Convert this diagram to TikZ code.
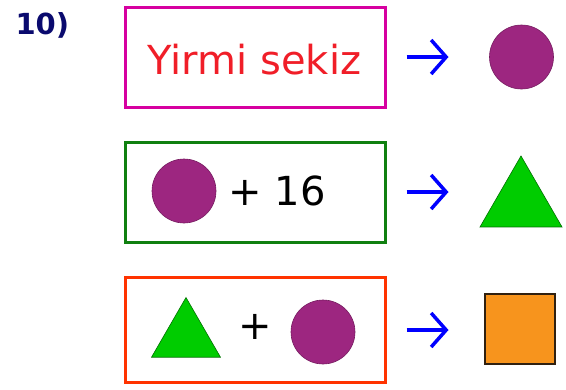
\documentclass[tikz,border=0pt]{standalone}
\usepackage{fontspec}
\setmainfont{DejaVu Sans}
\usetikzlibrary{arrows.meta,shapes.geometric}
\definecolor{boxpink}{RGB}{214,0,160}
\definecolor{boxgreen}{RGB}{16,128,16}
\definecolor{boxorange}{RGB}{255,51,0}
\definecolor{dotpurple}{RGB}{157,38,128}
\definecolor{trigreen}{RGB}{0,204,0}
\definecolor{sqorange}{RGB}{247,148,29}
\definecolor{labnavy}{RGB}{10,10,110}
\definecolor{wordred}{RGB}{240,30,40}

\begin{document}
\begin{tikzpicture}[x=1pt,y=-1pt,
    clue/.style={draw, line width=3pt, minimum width=260pt, inner sep=0pt},
    dot/.style={circle, fill=dotpurple, draw=dotpurple!75!black, line width=0.6pt, minimum size=64pt, inner sep=0pt},
    tri/.style={regular polygon, regular polygon sides=3, fill=trigreen, draw=trigreen!55!black, line width=0.6pt, inner sep=0pt},
    pointer/.style={blue, line width=3.5pt, -{Straight Barb[length=15pt,width=34pt]}},
    big/.style={font=\fontsize{40}{48}\selectfont}]
    \useasboundingbox (0,0) rectangle (566,389);
    \node[anchor=base west, text=labnavy, font=\fontsize{29}{34}\selectfont\bfseries] (num) at (12,34) {10)};
    % clue boxes
    \node[clue, draw=boxpink, minimum height=100pt] (box1) at (255,57) {};
    \node[clue, draw=boxgreen, minimum height=100pt] (box2) at (255,192) {};
    \node[clue, draw=boxorange, minimum height=105pt] (box3) at (255,330) {};
    % row 1
    \node[big, anchor=base, text=wordred] (word) at (254.5,74) {Yirmi sekiz};
    \node[dot] (ans1) at (521.5,57) {};
    % row 2
    \node[dot] (dot2) at (184,191) {};
    \node[big, anchor=base] (plus2) at (277,205) {+ 16};
    \node[tri, minimum size=94.7pt] (ans2) at (521,203.3) {};
    % row 3
    \node[tri, minimum size=79.6pt] (tri3) at (186,337.3) {};
    \node[big] (plus3) at (255.5,327) {+};
    \node[dot] (dot3) at (323,332) {};
    \node[draw=black!75!brown, line width=2pt, fill=sqorange, minimum size=70pt, inner sep=0pt] (ans3) at (520,329) {};
    % arrows
    \draw[pointer] ([xshift=20pt]box1.east) -- ([xshift=62pt]box1.east);
    \draw[pointer] ([xshift=20pt]box2.east) -- ([xshift=62pt]box2.east);
    \draw[pointer] ([xshift=20pt]box3.east) -- ([xshift=62pt]box3.east);
\end{tikzpicture}
\end{document}
